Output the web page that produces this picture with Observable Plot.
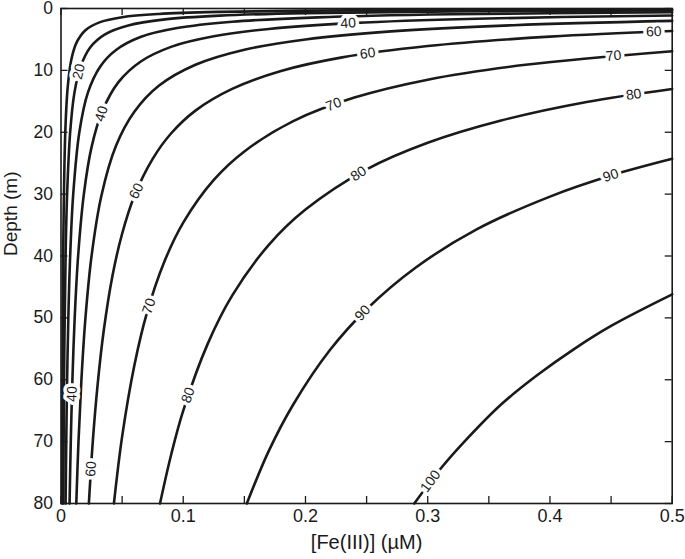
<!DOCTYPE html>
<html><head><meta charset="utf-8">
<script src="https://cdn.jsdelivr.net/npm/d3@7"></script>
<script src="https://cdn.jsdelivr.net/npm/@observablehq/plot@0.6"></script>
<style>body{margin:0;background:#fff} svg{display:block}</style>
</head><body><div id="chart"></div>
<script>
// Contour levels and lines: [Fe(III) µM, depth m]
const levels = [10, 20, 30, 40, 50, 60, 70, 80, 90, 100];
const c10 = [[0.0009,80],[0.0012,60],[0.00175,40],[0.0035,20],[0.0055,12.7],[0.0085,8.2],[0.013,5.4],[0.02,3.5],[0.032,2.2],[0.05,1.4],[0.08,0.88],[0.13,0.54],[0.2,0.35],[0.32,0.22],[0.5,0.14]];
const c20 = [[0.0019,80],[0.0025,60],[0.00375,40],[0.005,30],[0.0075,20],[0.011,13.6],[0.016,9.4],[0.024,6.25],[0.036,4.17],[0.055,2.73],[0.085,1.76],[0.13,1.15],[0.2,0.75],[0.32,0.47],[0.5,0.3]];
const c30 = [[0.00375,80],[0.0043,70],[0.005,60],[0.006,50],[0.0075,40],[0.01,30],[0.015,20],[0.022,13.6],[0.032,9.4],[0.045,6.7],[0.065,4.6],[0.095,3.16],[0.14,2.14],[0.21,1.43],[0.32,0.94],[0.5,0.6]];
const c40 = [[0.007,80],[0.008,70],[0.0093,60.2],[0.0112,50],[0.014,40],[0.0187,30],[0.025,22.4],[0.034,16.5],[0.047,11.9],[0.065,8.6],[0.09,6.2],[0.125,4.5],[0.17,3.3],[0.24,2.33],[0.34,1.65],[0.5,1.12]];
const c50 = [[0.0125,80],[0.0143,70],[0.0167,60],[0.02,50],[0.025,40],[0.033,30.3],[0.045,22.2],[0.06,16.7],[0.08,12.5],[0.11,9.1],[0.15,6.67],[0.2,5],[0.27,3.7],[0.37,2.7],[0.5,2]];
const c60 = [[0.0228,80],[0.026,70],[0.03,60.7],[0.035,52],[0.042,43.3],[0.05,36.4],[0.06,30.3],[0.075,24.3],[0.09,20.2],[0.11,16.5],[0.14,13],[0.18,10.1],[0.23,7.9],[0.3,6.07],[0.4,4.55],[0.5,3.64]];
const c70 = [[0.0433,80],[0.05,69.2],[0.06,57.7],[0.07,49.4],[0.085,40.7],[0.1,34.6],[0.125,27.7],[0.15,23.1],[0.19,18.2],[0.24,14.4],[0.3,11.5],[0.38,9.1],[0.5,6.9]];
const c80 = [[0.081,80],[0.09,72.2],[0.1,65],[0.12,54.2],[0.14,46.4],[0.17,38.2],[0.2,32.5],[0.25,26],[0.3,21.7],[0.36,18.1],[0.43,15.1],[0.5,13]];
const c90 = [[0.152,80],[0.17,71.5],[0.19,64],[0.22,55.2],[0.25,48.6],[0.29,41.9],[0.34,35.7],[0.4,30.4],[0.45,27],[0.5,24.3]];
const c100 = [[0.289,80],[0.31,74.5],[0.33,70],[0.36,64],[0.39,59.2],[0.42,55],[0.45,51.3],[0.5,46.2]];

// Inline contour labels
const labelLevels = [20, 40, 40, 60, 60, 70, 80, 90, 100, 40, 60, 70, 80, 60, 70, 80, 90];
const labelFe     = [0.0147, 0.033, 0.009, 0.0245, 0.0617, 0.072, 0.104, 0.2467, 0.3023, 0.235, 0.2508, 0.223, 0.2435, 0.485, 0.452, 0.4685, 0.4497];
const labelDepth  = [10.2, 17, 62.3, 74.4, 29.5, 48.1, 62.5, 49.2, 76.4, 2.38, 7.26, 15.5, 26.7, 3.75, 7.65, 13.9, 27];

// Axes
const xTickLabels = [0, 0.1, 0.2, 0.3, 0.4, 0.5];
const xTicks = [0, 0.05, 0.1, 0.15, 0.2, 0.25, 0.3, 0.35, 0.4, 0.45, 0.5];
const yTicks = [0, 10, 20, 30, 40, 50, 60, 70, 80];
const xLabel = "[Fe(III)] (\u00b5M)";
const yLabel = "Depth (m)";

const lineSets = [c10, c20, c30, c40, c50, c60, c70, c80, c90, c100];
const rows = lineSets.flatMap((pts, i) => pts.map(([fe, depth]) => ({level: levels[i], fe, depth})));

const W = 685, H = 559, ml = 60.5, mr = 13.3, mt = 8, mb = 56;
const innerW = W - ml - mr, innerH = H - mt - mb;
const xs = Plot.scale({x: {domain: [0, 0.5], range: [ml, W - mr]}});
const ys = Plot.scale({y: {domain: [0, 80], range: [mt, H - mb]}});

function angleAt(level, fe) {
  const pts = lineSets[levels.indexOf(level)];
  let k = pts.findIndex(p => p[0] >= fe);
  if (k <= 0) k = 1;
  const a = pts[k - 1], b = pts[k];
  const dx = xs.apply(b[0]) - xs.apply(a[0]);
  const dy = ys.apply(b[1]) - ys.apply(a[1]);
  return Math.atan2(dy, dx) * 180 / Math.PI;
}
const labels = labelLevels.map((lv, i) => ({
  level: lv, fe: labelFe[i], depth: labelDepth[i], angle: angleAt(lv, labelFe[i])
}));

const ink = "#1a1a1a";
const chart = Plot.plot({
  width: W, height: H,
  marginLeft: ml, marginRight: mr, marginTop: mt, marginBottom: mb,
  style: {fontFamily: "'Liberation Sans', Arial, sans-serif", background: "#fff", color: ink},
  x: {domain: [0, 0.5]},
  y: {domain: [0, 80], reverse: true},
  marks: [
    Plot.line(rows, {x: "fe", y: "depth", z: "level", stroke: ink, strokeWidth: 2.6, curve: "catmull-rom"}),
    Plot.text(labels, {x: "fe", y: "depth", text: d => String(d.level), rotate: "angle",
      fontSize: 14, fill: ink, stroke: "white", strokeWidth: 7, textAnchor: "middle"}),
    Plot.ruleX(xTicks, {x: d => d, insetTop: innerH - 7, stroke: ink, strokeWidth: 1.3}),
    Plot.ruleX(xTicks, {x: d => d, insetBottom: innerH - 7, stroke: ink, strokeWidth: 1.3}),
    Plot.ruleY(yTicks, {y: d => d, insetRight: innerW - 7, stroke: ink, strokeWidth: 1.3}),
    Plot.ruleY(yTicks, {y: d => d, insetLeft: innerW - 7, stroke: ink, strokeWidth: 1.3}),
    Plot.frame({stroke: ink, strokeWidth: 1.6}),
    Plot.axisX(xTickLabels, {tickSize: 0, tickPadding: 6, fontSize: 18, tickFormat: d => String(d), label: null}),
    Plot.axisY(yTicks, {tickSize: 0, tickPadding: 8, fontSize: 17.5, tickFormat: d => String(d), label: null}),
    Plot.text([xLabel], {frameAnchor: "bottom", dy: 45, fontSize: 20, fill: ink}),
    Plot.text([yLabel], {frameAnchor: "left", dx: -50, rotate: -90, fontSize: 19, fill: ink})
  ]
});
document.getElementById("chart").appendChild(chart);
</script>
</body></html>
